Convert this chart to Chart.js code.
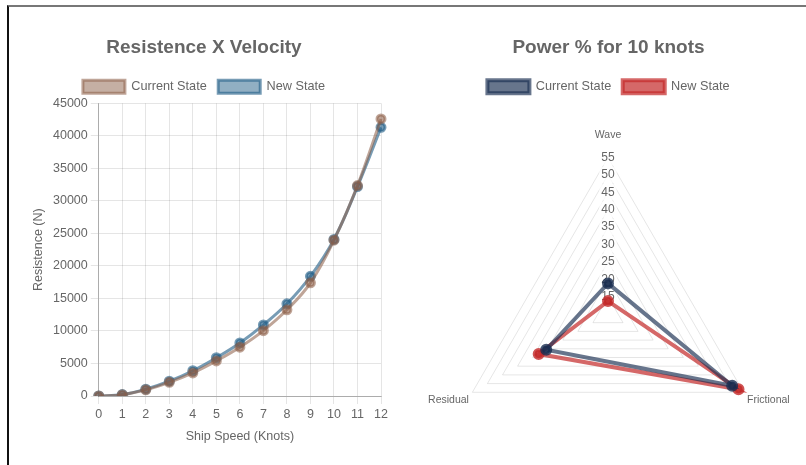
<!DOCTYPE html>
<html>
<head>
<meta charset="utf-8">
<title>Resistence / Power</title>
<script src="https://cdn.jsdelivr.net/npm/chart.js@4.4.0/dist/chart.umd.min.js"></script>
<style>
  body { margin: 0; background: #fff; overflow: hidden; }
  .frame {
    position: absolute; left: 7px; top: 5px; width: 820px; height: 480px;
    border-top: 2px solid #777; border-left: 2px solid #111;
  }
  .box { position: absolute; top: 10px; }
  #left-box { left: 13px; width: 391px; height: 445px; }
  #right-box { left: 394px; width: 429px; height: 480px; }
</style>
</head>
<body>
<div class="frame"></div>
<div class="box" id="left-box"><canvas id="resistence-chart"></canvas></div>
<div class="box" id="right-box"><canvas id="power-chart"></canvas></div>

<script>
// resistance curve, one point per knot
var speeds = ['0', '1', '2', '3', '4', '5', '6', '7', '8', '9', '10', '11', '12'];
var currentResistence = [0, 200, 950, 2100, 3550, 5400, 7500, 10050, 13250, 17400, 23950, 32350, 42600];
var newResistence = [0, 220, 1050, 2280, 3880, 5880, 8150, 10930, 14180, 18400, 24070, 32200, 41300];

// share of power at 10 knots (%)
var powerParts = ['Wave', 'Frictional', 'Residual'];
var currentPower = [18.8, 51.2, 30.5];
var newPower = [13.7, 53.3, 33.0];

Chart.defaults.font.family = "'Liberation Sans', Arial, sans-serif";
Chart.defaults.color = '#666';

// extra room under the radar legend
var legendGap = {
  id: 'legendGap',
  beforeInit: function (chart) {
    var fit = chart.legend.fit;
    chart.legend.fit = function () {
      fit.bind(chart.legend)();
      this.height += 17;
    };
  }
};

document.addEventListener('DOMContentLoaded', function () {
  var ctx1 = document.getElementById('resistence-chart').getContext('2d');
  var ctx2 = document.getElementById('power-chart').getContext('2d');

  new Chart(ctx1, {
    type: 'line',
    data: {
      labels: speeds,
      datasets: [
        {
          label: 'Current State',
          data: currentResistence,
          borderColor: 'rgba(140, 95, 72, 0.56)',
          backgroundColor: 'rgba(140, 95, 72, 0.5)',
          pointBackgroundColor: 'rgba(140, 95, 72, 0.56)',
          pointBorderColor: 'rgba(140, 95, 72, 0.56)',
          borderWidth: 3,
          pointRadius: 4,
          tension: 0.4,
          fill: false
        },
        {
          label: 'New State',
          data: newResistence,
          borderColor: 'rgba(35, 95, 135, 0.62)',
          backgroundColor: 'rgba(35, 95, 135, 0.5)',
          pointBackgroundColor: 'rgba(35, 95, 135, 0.62)',
          pointBorderColor: 'rgba(35, 95, 135, 0.62)',
          borderWidth: 3,
          pointRadius: 4,
          tension: 0.4,
          fill: false
        }
      ]
    },
    options: {
      responsive: true,
      maintainAspectRatio: false,
      animation: false,
      layout: { padding: { top: 16, left: 14, right: 23, bottom: 7 } },
      plugins: {
        title: {
          display: true,
          text: 'Resistence X Velocity',
          font: { size: 19, weight: 'bold' },
          padding: { top: 10, bottom: 10 }
        },
        legend: {
          labels: { boxWidth: 42, boxHeight: 13, padding: 11.5, font: { size: 12.7 } }
        },
        tooltip: { enabled: false }
      },
      scales: {
        x: {
          title: { display: true, text: 'Ship Speed (Knots)', font: { size: 12.5 } },
          ticks: { font: { size: 12.5 } },
          grid: { color: 'rgba(0, 0, 0, 0.1)' },
          border: { color: 'rgba(0, 0, 0, 0.25)' }
        },
        y: {
          min: 0,
          max: 45000,
          title: { display: true, text: 'Resistence (N)', font: { size: 12.5 } },
          ticks: {
            stepSize: 5000,
            font: { size: 12.5 },
            callback: function (value) { return String(value); }
          },
          grid: { color: 'rgba(0, 0, 0, 0.1)' },
          border: { color: 'rgba(0, 0, 0, 0.25)' }
        }
      }
    }
  });

  new Chart(ctx2, {
    type: 'radar',
    data: {
      labels: powerParts,
      datasets: [
        {
          label: 'Current State',
          data: currentPower,
          borderColor: 'rgba(25, 45, 80, 0.66)',
          backgroundColor: 'rgba(25, 45, 80, 0.66)',
          pointBackgroundColor: 'rgba(25, 45, 80, 0.8)',
          pointBorderColor: 'rgba(25, 45, 80, 0.8)',
          borderWidth: 4,
          pointRadius: 4,
          fill: false
        },
        {
          label: 'New State',
          data: newPower,
          borderColor: 'rgba(195, 40, 40, 0.7)',
          backgroundColor: 'rgba(195, 40, 40, 0.7)',
          pointBackgroundColor: 'rgba(195, 40, 40, 0.8)',
          pointBorderColor: 'rgba(195, 40, 40, 0.8)',
          borderWidth: 4,
          pointRadius: 4,
          fill: false
        }
      ]
    },
    plugins: [legendGap],
    options: {
      responsive: true,
      maintainAspectRatio: false,
      animation: false,
      layout: { padding: { top: 16 } },
      plugins: {
        title: {
          display: true,
          text: 'Power % for 10 knots',
          font: { size: 19, weight: 'bold' },
          padding: { top: 10, bottom: 10 }
        },
        legend: {
          labels: { boxWidth: 42, boxHeight: 13, padding: 11.5, font: { size: 12.7 } }
        },
        tooltip: { enabled: false }
      },
      scales: {
        r: {
          min: 10,
          max: 55,
          angleLines: { display: false },
          grid: { color: 'rgba(0, 0, 0, 0.1)' },
          ticks: { stepSize: 5, font: { size: 12 }, backdropColor: 'rgba(255, 255, 255, 0.75)' },
          pointLabels: {
            font: { size: 10.5 },
            color: '#666',
            // lower labels hug their corners, the top one sits a bit higher
            padding: function (context) { return context.index === 0 ? 7.5 : -4; }
          }
        }
      }
    }
  });
});
</script>
</body>
</html>
